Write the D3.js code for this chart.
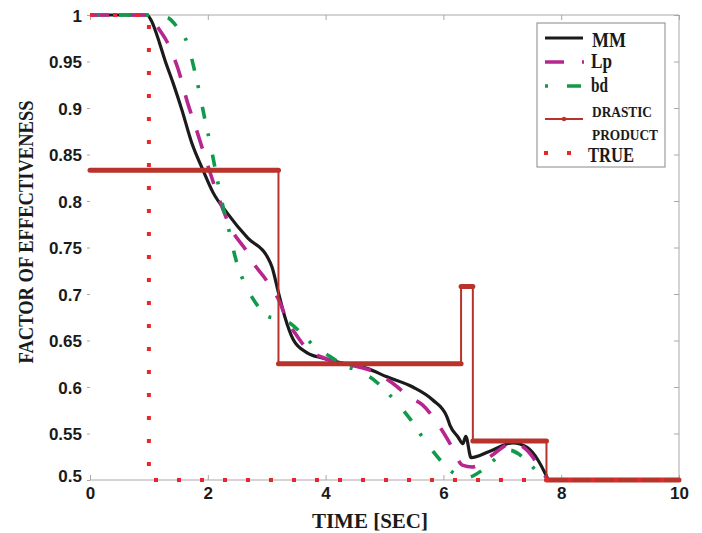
<!DOCTYPE html>
<html><head><meta charset="utf-8">
<script src="https://cdn.jsdelivr.net/npm/d3@7/dist/d3.min.js"></script>
<style>body{margin:0;background:#fff}svg{display:block}</style>
</head><body>
<svg id="c" width="702" height="533"></svg>
<script>
// ---- data ----
const xTicks = [0, 2, 4, 6, 8, 10];
const yTicks = [0.5, 0.55, 0.6, 0.65, 0.7, 0.75, 0.8, 0.85, 0.9, 0.95, 1];
const yTickLabels = ["0.5", "0.55", "0.6", "0.65", "0.7", "0.75", "0.8", "0.85", "0.9", "0.95", "1"];

const mmX = [0, 0.97, 1.04, 1.10, 1.18, 1.27, 1.41, 1.56, 1.73, 1.92, 2.09, 2.33, 2.68, 3.01, 3.09, 3.19, 3.31, 3.45, 3.68, 3.96, 4.41, 4.70, 5.04, 5.48, 5.82, 6.06, 6.11, 6.25, 6.33, 6.38, 6.47, 6.79, 7.18, 7.42, 7.61, 7.72, 7.78];
const mmY = [1, 1, 0.994, 0.985, 0.970, 0.952, 0.927, 0.898, 0.862, 0.833, 0.809, 0.787, 0.760, 0.740, 0.729, 0.704, 0.675, 0.651, 0.637, 0.631, 0.624, 0.620, 0.611, 0.600, 0.586, 0.568, 0.559, 0.546, 0.539, 0.547, 0.524, 0.531, 0.540, 0.535, 0.521, 0.508, 0.5];

const lpX = [0, 0.98, 1.07, 1.15, 1.31, 1.49, 1.66, 1.78, 1.97, 2.17, 2.39, 2.67, 2.80, 2.97, 3.23, 3.34, 3.48, 3.70, 3.94, 4.40, 4.87, 5.14, 5.43, 5.64, 5.94, 6.16, 6.32, 6.49, 6.79, 7.18, 7.42, 7.59, 7.73, 7.78];
const lpY = [1, 1, 0.996, 0.987, 0.971, 0.943, 0.905, 0.882, 0.844, 0.806, 0.771, 0.745, 0.731, 0.717, 0.690, 0.672, 0.658, 0.640, 0.632, 0.624, 0.615, 0.604, 0.589, 0.581, 0.557, 0.534, 0.516, 0.514, 0.525, 0.540, 0.532, 0.518, 0.504, 0.5];

const bdX = [0, 1.0, 1.15, 1.32, 1.48, 1.65, 1.78, 1.85, 1.95, 2.05, 2.14, 2.24, 2.33, 2.38, 2.46, 2.58, 2.67, 2.84, 3.06, 3.23, 3.36, 3.62, 3.79, 4.07, 4.36, 4.58, 4.87, 5.18, 5.43, 5.69, 5.98, 6.16, 6.37, 6.67, 6.93, 7.13, 7.30, 7.56, 7.69, 7.78];
const bdY = [1, 1, 0.999, 0.997, 0.987, 0.970, 0.939, 0.919, 0.888, 0.859, 0.830, 0.799, 0.776, 0.763, 0.741, 0.718, 0.706, 0.688, 0.675, 0.674, 0.670, 0.656, 0.645, 0.633, 0.622, 0.617, 0.605, 0.585, 0.566, 0.542, 0.519, 0.508, 0.502, 0.511, 0.525, 0.532, 0.527, 0.511, 0.502, 0.5];

const dpX = [0, 3.2, 6.3, 6.5, 7.75, 10];
const dpY = [0.833, 0.625, 0.708, 0.542, 0.5, 0.5];

const trueX = [0, 1, 1, 10];
const trueY = [1, 1, 0.5, 0.5];

const legendNames = ["MM", "Lp", "bd", "DRASTIC|PRODUCT", "TRUE"];

// ---- drawing ----
const svg = d3.select("#c");
svg.append("rect").attr("width", 702).attr("height", 533).attr("fill", "#fff");
const x = d3.scaleLinear().domain([0, 10]).range([90, 679]);
const y = d3.scaleLinear().domain([0.5, 1]).range([480, 15]);
const zip = (a, b) => a.map((v, i) => [v, b[i]]);
const line = d3.line().x(d => x(d[0])).y(d => y(d[1]));
const smooth = d3.line().x(d => x(d[0])).y(d => y(d[1])).curve(d3.curveMonotoneX);

const C = {mm: "#1b1b1b", lp: "#b7268f", bd: "#129a4b", dp: "#b8332b", tr: "#e8262b", ax: "#a8a8a8"};

// frame
const g = svg.append("g");
g.append("line").attr("x1", 90).attr("x2", 679).attr("y1", 15).attr("y2", 15).attr("stroke", C.ax);
g.append("line").attr("x1", 679).attr("x2", 679).attr("y1", 15).attr("y2", 480).attr("stroke", C.ax);
g.append("line").attr("x1", 90).attr("x2", 679).attr("y1", 480).attr("y2", 480).attr("stroke", C.ax);

// axes via d3 (inward ticks)
const xAxisB = d3.axisBottom(x).tickValues(xTicks).tickSize(-5).tickPadding(10).tickFormat(d3.format("d"));
const xg = svg.append("g").attr("transform", "translate(0,480)").call(xAxisB);
const xAxisT = d3.axisTop(x).tickValues(xTicks).tickSize(-5).tickFormat("");
const xgt = svg.append("g").attr("transform", "translate(0,15)").call(xAxisT);
const yAxisL = d3.axisLeft(y).tickValues(yTicks).tickSize(3).tickPadding(5).tickFormat((d, i) => yTickLabels[i]);
const yg = svg.append("g").attr("transform", "translate(90,0)").call(yAxisL);
const yAxisR = d3.axisRight(y).tickValues(yTicks).tickSize(-5).tickFormat("");
const ygr = svg.append("g").attr("transform", "translate(679,0)").call(yAxisR);
[xg, xgt, yg, ygr].forEach(a => {
  a.select(".domain").remove();
  a.selectAll(".tick line").attr("stroke", C.ax);
  a.selectAll("text").attr("fill", "#1a1a1a").attr("font-family", "Liberation Sans, Arial, sans-serif")
    .attr("font-weight", "bold").attr("font-size", 17);
});
xg.selectAll(".tick text").attr("dy", "0.5em");
yg.selectAll(".tick text").attr("dy", "0.36em");
yg.selectAll(".tick").filter(d => d === 0.5).select("text").attr("dy", "0.1em");

// axis titles
svg.append("text").attr("x", 370).attr("y", 528).attr("text-anchor", "middle")
  .attr("font-family", "Liberation Serif, Times New Roman, serif").attr("font-weight", "bold").attr("font-size", 21)
  .attr("fill", "#1a1a1a").text("TIME [SEC]");
svg.append("text").attr("transform", "translate(33,232) rotate(-90)").attr("text-anchor", "middle")
  .attr("font-family", "Liberation Serif, Times New Roman, serif").attr("font-weight", "bold").attr("font-size", 22)
  .attr("textLength", 263).attr("lengthAdjust", "spacingAndGlyphs")
  .attr("fill", "#1a1a1a").text("FACTOR OF EFFECTIVENESS");

// MM
svg.append("path").attr("d", smooth(zip(mmX, mmY))).attr("fill", "none").attr("stroke", C.mm)
  .attr("stroke-width", 3.2).attr("stroke-linejoin", "round");
// Lp
svg.append("path").attr("d", smooth(zip(lpX, lpY))).attr("fill", "none").attr("stroke", C.lp)
  .attr("stroke-width", 3.6).attr("stroke-dasharray", "19,18");
// bd
svg.append("path").attr("d", smooth(zip(bdX, bdY))).attr("fill", "none").attr("stroke", C.bd)
  .attr("stroke-width", 3.6).attr("stroke-dasharray", "12,15,3,19").attr("stroke-dashoffset", 20);

// drastic product: thin step line + thick horizontal segments
const dpPts = zip(dpX, dpY);
svg.append("path").attr("d", d3.line().x(d => x(d[0])).y(d => y(d[1])).curve(d3.curveStepAfter)(dpPts))
  .attr("fill", "none").attr("stroke", C.dp).attr("stroke-width", 2);
for (let i = 0; i < dpX.length - 1; i++) {
  svg.append("line").attr("x1", x(dpX[i])).attr("x2", x(dpX[i + 1])).attr("y1", y(dpY[i])).attr("y2", y(dpY[i]))
    .attr("stroke", C.dp).attr("stroke-width", 5).attr("stroke-linecap", "round");
}

// TRUE
svg.append("path").attr("d", line(zip(trueX, trueY))).attr("fill", "none").attr("stroke", C.tr)
  .attr("stroke-width", 4).attr("stroke-dasharray", "4,19");

// legend
const lg = svg.append("g");
lg.append("rect").attr("x", 537).attr("y", 23).attr("width", 128).attr("height", 144)
  .attr("fill", "#fff").attr("stroke", "#888").attr("stroke-width", 1);
const serif = "Liberation Serif, Times New Roman, serif";
const ly = [38, 62, 86, 119, 153];
lg.append("line").attr("x1", 545).attr("x2", 583).attr("y1", ly[0]).attr("y2", ly[0]).attr("stroke", C.mm).attr("stroke-width", 3.2);
lg.append("line").attr("x1", 545).attr("x2", 584).attr("y1", ly[1]).attr("y2", ly[1]).attr("stroke", C.lp).attr("stroke-width", 3.6).attr("stroke-dasharray", "19,18");
lg.append("line").attr("x1", 545).attr("x2", 583).attr("y1", ly[2]).attr("y2", ly[2]).attr("stroke", C.bd).attr("stroke-width", 3.6).attr("stroke-dasharray", "3,19,14,8");
lg.append("line").attr("x1", 545).attr("x2", 583).attr("y1", ly[3]).attr("y2", ly[3]).attr("stroke", C.dp).attr("stroke-width", 2);
lg.append("circle").attr("cx", 564).attr("cy", ly[3]).attr("r", 2.2).attr("fill", C.dp);
lg.append("line").attr("x1", 544).attr("x2", 572).attr("y1", ly[4]).attr("y2", ly[4]).attr("stroke", C.tr).attr("stroke-width", 4).attr("stroke-dasharray", "4,19");

const lt = [
  {t: legendNames[0], x: 592, y: 47, s: 20, w: 34},
  {t: legendNames[1], x: 591, y: 68, s: 20, w: 21},
  {t: legendNames[2], x: 591, y: 92, s: 20, w: 17},
  {t: legendNames[3].split("|")[0], x: 592, y: 117, s: 14, w: 60},
  {t: legendNames[3].split("|")[1], x: 592, y: 140, s: 14, w: 66},
  {t: legendNames[4], x: 588, y: 162, s: 20, w: 46}
];
lt.forEach(o => lg.append("text").attr("x", o.x).attr("y", o.y).attr("font-family", serif).attr("font-weight", "bold")
  .attr("font-size", o.s).attr("textLength", o.w).attr("lengthAdjust", "spacingAndGlyphs").attr("fill", "#1a1a1a").text(o.t));
</script>
</body></html>
